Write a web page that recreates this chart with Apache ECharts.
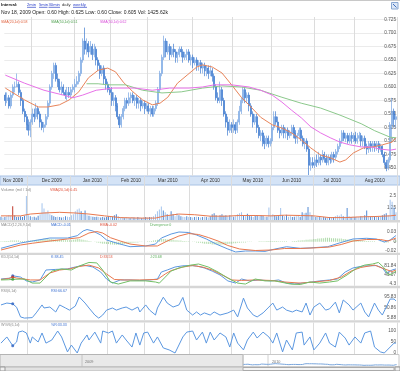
<!DOCTYPE html>
<html><head><meta charset="utf-8">
<script src="https://cdn.jsdelivr.net/npm/echarts@6/dist/echarts.min.js"></script>
<style>html,body{margin:0;padding:0;background:#fff}#c{width:400px;height:371px}</style>
</head><body><div id="c"></div>
<script>
// ---------- categories: trading days ----------
const tradingDays = [
  ['2009-11',[10,11,12,13,16,17,18,19,20,23,24,25,27,30]],
  ['2009-12',[1,2,3,4,7,8,9,10,11,14,15,16,17,18,21,22,23,24,28,29,30,31]],
  ['2010-01',[4,5,6,7,8,11,12,13,14,15,19,20,21,22,25,26,27,28,29]],
  ['2010-02',[1,2,3,4,5,8,9,10,11,12,16,17,18,19,22,23,24,25,26]],
  ['2010-03',[1,2,3,4,5,8,9,10,11,12,15,16,17,18,19,22,23,24,25,26,29,30,31]],
  ['2010-04',[1,5,6,7,8,9,12,13,14,15,16,19,20,21,22,23,26,27,28,29,30]],
  ['2010-05',[3,4,5,6,7,10,11,12,13,14,17,18,19,20,21,24,25,26,27,28]],
  ['2010-06',[1,2,3,4,7,8,9,10,11,14,15,16,17,18,21,22,23,24,25,28,29,30]],
  ['2010-07',[1,2,6,7,8,9,12,13,14,15,16,19,20,21,22,23,26,27,28,29,30]],
  ['2010-08',[2,3,4,5,6,9,10,11,12,13,16,17,18,19,20,23,24,25,26,27,30,31]]
];
const monthNames = ['Jan','Feb','Mar','Apr','May','Jun','Jul','Aug','Sep','Oct','Nov','Dec'];

// ---------- price candles [open, close, low, high] ----------
const candles = [
// Nov 2009
[.585,.575,.565,.59],[.575,.58,.57,.59],[.58,.565,.56,.585],[.565,.585,.56,.59],[.585,.60,.58,.605],
[.60,.60,.59,.61],[.60,.605,.60,.625],[.605,.59,.585,.61],[.59,.575,.565,.595],[.575,.555,.55,.58],
[.555,.545,.535,.56],[.545,.53,.52,.55],[.53,.52,.51,.54],[.52,.535,.507,.54],
// Dec
[.535,.55,.53,.56],[.55,.545,.535,.56],[.545,.56,.54,.57],[.56,.55,.54,.565],[.55,.535,.525,.555],
[.535,.525,.52,.54],[.525,.53,.516,.535],[.53,.545,.525,.55],[.545,.57,.54,.575],[.57,.60,.565,.605],
[.60,.625,.595,.63],[.625,.64,.615,.645],[.64,.615,.61,.645],[.615,.61,.60,.625],[.61,.595,.59,.615],
[.595,.60,.585,.61],[.60,.59,.585,.605],[.59,.585,.578,.595],[.585,.59,.575,.60],[.59,.585,.58,.60],
[.585,.595,.58,.60],[.595,.60,.59,.605],
// Jan 2010
[.60,.605,.59,.615],[.605,.61,.60,.62],[.61,.625,.605,.63],[.625,.65,.62,.655],[.65,.685,.645,.69],
[.685,.67,.66,.71],[.67,.68,.66,.69],[.68,.665,.655,.685],[.665,.675,.66,.685],[.675,.66,.65,.68],
[.66,.67,.655,.68],[.67,.65,.64,.675],[.65,.64,.63,.655],[.64,.625,.615,.645],[.625,.635,.62,.64],
[.635,.615,.605,.64],[.615,.605,.595,.62],[.605,.595,.59,.61],[.595,.59,.585,.60],
// Feb
[.59,.575,.565,.60],[.575,.58,.565,.59],[.58,.565,.555,.585],[.565,.545,.54,.57],[.545,.53,.524,.55],
[.53,.545,.525,.55],[.545,.56,.54,.565],[.56,.575,.555,.58],[.575,.57,.56,.58],[.57,.58,.565,.59],
[.58,.585,.57,.59],[.585,.575,.57,.59],[.575,.58,.565,.585],[.58,.57,.56,.585],[.57,.575,.56,.58],
[.575,.565,.555,.58],[.565,.57,.56,.575],[.57,.56,.55,.575],[.56,.565,.555,.57],
// Mar
[.565,.555,.55,.57],[.555,.56,.545,.565],[.56,.55,.545,.565],[.55,.56,.545,.565],[.56,.57,.555,.575],
[.57,.595,.565,.60],[.595,.625,.59,.63],[.625,.655,.62,.66],[.655,.685,.65,.695],[.685,.665,.655,.69],
[.665,.675,.66,.685],[.675,.66,.65,.68],[.66,.67,.655,.675],[.67,.665,.655,.68],[.665,.655,.645,.67],
[.655,.66,.645,.665],[.66,.67,.655,.675],[.67,.665,.655,.675],[.665,.655,.645,.67],[.655,.66,.65,.665],
[.66,.665,.65,.67],[.665,.65,.645,.67],[.65,.655,.64,.66],
// Apr
[.655,.645,.635,.66],[.645,.65,.64,.655],[.65,.64,.63,.655],[.64,.645,.63,.65],[.645,.635,.625,.65],
[.635,.64,.625,.645],[.64,.63,.62,.645],[.63,.635,.62,.64],[.635,.625,.615,.64],[.625,.63,.62,.64],
[.63,.62,.61,.635],[.62,.60,.595,.625],[.60,.58,.575,.605],[.58,.575,.57,.59],[.575,.595,.57,.61],
[.595,.575,.565,.60],[.575,.55,.545,.58],[.55,.535,.525,.555],[.535,.52,.51,.545],[.52,.53,.515,.54],
[.53,.525,.515,.535],
// May
[.525,.53,.515,.54],[.53,.52,.513,.535],[.52,.535,.515,.54],[.535,.555,.53,.565],[.555,.575,.55,.58],
[.575,.595,.57,.60],[.595,.58,.57,.60],[.58,.585,.57,.59],[.585,.565,.555,.59],[.565,.55,.545,.57],
[.55,.535,.525,.555],[.535,.545,.53,.55],[.545,.525,.515,.55],[.525,.51,.505,.53],[.51,.515,.50,.52],
[.515,.50,.49,.52],[.50,.495,.485,.51],[.495,.505,.49,.51],[.505,.495,.488,.51],[.495,.50,.49,.505],
// Jun
[.50,.525,.495,.53],[.525,.545,.52,.555],[.545,.535,.53,.555],[.535,.52,.515,.545],[.52,.515,.505,.525],
[.515,.525,.51,.53],[.525,.515,.505,.53],[.515,.52,.505,.525],[.52,.51,.502,.525],[.51,.515,.505,.52],
[.515,.525,.51,.53],[.525,.515,.505,.53],[.515,.505,.495,.52],[.505,.51,.495,.515],[.51,.52,.505,.525],
[.52,.505,.50,.525],[.505,.495,.49,.51],[.495,.50,.485,.505],[.50,.485,.48,.505],[.485,.455,.437,.49],
[.455,.46,.445,.47],[.46,.455,.45,.47],
// Jul
[.455,.465,.45,.47],[.465,.46,.452,.475],[.46,.47,.455,.48],[.47,.465,.455,.475],[.465,.475,.46,.483],
[.475,.468,.46,.48],[.468,.46,.455,.475],[.46,.47,.455,.475],[.47,.465,.458,.475],[.465,.475,.46,.48],
[.475,.47,.46,.48],[.47,.48,.465,.485],[.48,.49,.475,.495],[.49,.50,.485,.505],[.50,.515,.495,.52],
[.515,.505,.50,.52],[.505,.51,.498,.515],[.51,.50,.495,.515],[.50,.51,.495,.515],[.51,.505,.495,.517],
[.505,.51,.498,.515],
// Aug
[.51,.50,.495,.517],[.50,.505,.495,.515],[.505,.51,.50,.517],[.51,.50,.49,.515],[.50,.505,.49,.51],
[.505,.49,.485,.51],[.49,.485,.475,.495],[.485,.495,.478,.50],[.495,.49,.48,.50],[.49,.495,.48,.50],
[.495,.49,.48,.50],[.49,.495,.482,.50],[.495,.485,.478,.50],[.485,.49,.48,.495],[.49,.475,.47,.492],
[.475,.46,.455,.48],[.46,.45,.444,.465],[.45,.465,.446,.47],[.465,.53,.46,.535],[.53,.555,.505,.58],
[.555,.54,.525,.56],[.54,.545,.525,.55]
];

// ---------- volume (millions) ----------
const volume = [
 .35,.25,.3,.4,.5,.45,1.43,.5,.3,.35,.4,.3,.45,2.5,
 .5,.4,.3,.35,.25,.45,.6,1.75,1.2,.8,1.0,.6,.5,.4,.3,.35,.3,.25,.3,.4,.35,.3,
 .5,.6,.9,1.1,1.2,.9,.7,1.0,.5,.45,.4,.35,.3,.35,.3,.25,.3,.25,.3,
 .4,.3,.35,.5,.6,.4,.3,.25,.2,.3,.25,.2,.3,.25,.2,.3,.25,.2,.25,
 .3,.25,.3,.3,.4,.6,.9,1.1,1.4,1.0,.8,.6,.5,.9,.6,.4,.7,.5,.4,.35,.3,.4,.3,
 .3,.25,.3,.35,.3,.25,.3,.35,.3,.25,.4,.6,.7,.5,.4,.5,.6,.45,.5,.4,.5,
 .4,.35,.4,.6,.7,.8,.5,.4,.65,.5,.4,.3,.5,.45,.4,.5,.45,.3,.35,1.3,
 .5,.6,.5,.4,.45,1.25,.5,.4,.55,.35,.4,.3,.35,.4,.5,.35,.8,.7,.75,1.35,.8,.5,
 .4,.3,.35,.3,.25,.3,.25,.2,.3,.25,.3,.4,.5,.45,.6,.4,.35,1.25,.4,.3,.35,
 .3,.35,.3,.4,.35,.5,1.0,.4,.35,.3,.4,.35,.3,.4,.5,.6,.7,.5,2.1,1.9,1.3,.8
];

// ---------- MACD divergence (x 0.001) ----------
const divergence = [
 1,1,2,2,2,3,3,3,3,3,2,2,2,2,
 3,3,4,4,5,5,6,7,8,8,8,7,7,6,6,5,5,5,4,4,4,4,
 4,5,6,7,7,6,5,4,3,2,1,0,-1,-2,-3,-4,-5,-5,-6,
 -6,-7,-7,-8,-8,-8,-7,-7,-6,-5,-5,-4,-3,-3,-2,-2,-1,-1,0,
 0,1,1,2,3,4,5,6,7,7,7,6,6,5,5,4,4,3,3,2,2,1,1,
 0,-1,-1,-2,-3,-3,-4,-5,-5,-6,-6,-7,-7,-7,-8,-8,-7,-7,-6,-6,-5,
 -5,-4,-4,-3,-3,-2,-2,-2,-1,-1,-1,0,0,0,1,1,1,1,2,2,
 2,2,2,2,1,1,1,1,1,0,0,1,2,2,3,3,4,4,5,5,6,6,
 7,7,8,8,9,9,10,10,10,9,9,9,8,8,8,7,7,6,6,5,5,
 5,4,4,3,3,2,2,2,1,1,1,0,0,-1,-1,-2,-2,-2,-1,0,2,3
];

// ---------- line readings [trading-day index, value] ----------
const sma20Pts = [[0,.598],[10,.576],[17,.563],[22,.563],[28,.567],[33,.576],[38,.591],[43,.617],[48,.631],[53,.635],[57,.628],[61,.609],[66,.591],[71,.576],[76,.567],[80,.570],[84,.581],[89,.607],[94,.622],[99,.637],[102,.641],[107,.637],[112,.626],[117,.604],[122,.581],[127,.563],[132,.544],[138,.530],[143,.524],[148,.515],[153,.502],[158,.487],[163,.474],[168,.469],[173,.461],[176,.465],[180,.478],[185,.487],[190,.489],[195,.493],[200,.498],[202,.506]];
const sma50Pts = [[42,.606],[48,.606],[53,.604],[62,.604],[71,.594],[81,.589],[91,.591],[102,.598],[112,.602],[122,.600],[132,.594],[143,.581],[153,.570],[163,.561],[173,.548],[184,.532],[191,.519],[199,.507],[202,.506]];
const smaLongPts = [[0,.622],[10,.607],[20,.594],[30,.585],[35,.580],[40,.585],[47,.594],[56,.598],[67,.598],[76,.594],[85,.598],[95,.598],[102,.600],[108,.604],[117,.604],[126,.600],[132,.594],[138,.585],[143,.572],[148,.557],[153,.543],[158,.526],[163,.515],[168,.506],[173,.498],[178,.493],[184,.489],[189,.489],[194,.485],[199,.483],[202,.485]];
const vmaPts = [[0,.43],[10,.43],[15,.62],[22,.73],[30,.8],[38,.73],[45,.62],[53,.43],[61,.25],[71,.2],[79,.2],[84,.43],[91,.62],[99,.55],[107,.4],[115,.4],[122,.47],[130,.47],[138,.43],[145,.5],[153,.47],[160,.43],[168,.25],[176,.25],[184,.33],[191,.36],[199,.43],[202,.5]];
const macdPts = [[0,-.017],[10,-.0034],[16,.0018],[25,.0095],[34,.0095],[39,.0155],[42,.0276],[44,.0314],[47,.0276],[51,.0173],[54,.0044],[59,-.0034],[66,-.0129],[74,-.011],[79,-.006],[82,.0095],[87,.0198],[91,.025],[96,.0237],[100,.0173],[105,.007],[110,-.006],[116,-.0188],[120,-.0265],[125,-.024],[130,-.024],[135,-.025],[140,-.019],[146,-.013],[153,-.017],[158,-.016],[167,-.013],[173,-.0034],[180,.007],[187,.0088],[192,.007],[196,-.0008],[199,.0044],[202,.016]];
const emaPts = [[0,-.0214],[10,-.0085],[16,-.004],[25,.0018],[34,.007],[40,.0103],[45,.0224],[49,.0263],[52,.0224],[56,.0103],[61,.0018],[66,-.006],[74,-.011],[80,-.011],[85,.0018],[91,.0147],[96,.0211],[101,.0186],[106,.0108],[111,.0018],[116,-.0098],[122,-.0188],[130,-.0227],[138,-.0214],[145,-.0175],[153,-.0175],[160,-.016],[168,-.0137],[174,-.0072],[180,.0018],[187,.0057],[194,.0057],[198,.0018],[202,.0095]];
const kPts = [[0,25],[5,29],[6,38.45],[10,33],[13,17],[16,12.5],[20,21],[23,62.5],[28,65],[34,67],[38,75],[42,81.84],[44,80],[47,75],[51,54],[54,25],[57,8],[61,21],[66,21],[71,19],[76,21],[80,25],[82,54],[85,62.5],[89,75],[93,80],[97,81],[100,79],[104,71],[108,58],[112,42],[116,17],[120,8],[123,25],[127,17],[132,21],[138,17],[142,21],[146,8],[150,4.3],[154,8],[159,12.5],[163,17],[168,21],[172,25],[176,54],[180,71],[185,79],[189,80],[192,81],[195,71],[197,50],[200,62.5],[202,67]];
const dPts = [[0,23],[4,27],[6,33.53],[8,29],[15,21],[20,21],[25,50],[30,62.5],[35,67],[40,77],[45,83],[50,71],[54,46],[58,23],[63,21],[71,21],[80,23],[84,46],[87,60],[93,75],[98,81],[103,75],[108,62.5],[113,42],[118,21],[123,19],[130,21],[138,19],[145,12.5],[153,8],[160,12.5],[168,19],[174,33],[179,58],[184,73],[191,83],[196,67],[200,56],[202,62.5]];
const jPts = [[0,21],[4,22],[6,23.68],[12,25],[16,8],[20,8],[22,25],[26,58],[31,67],[36,62.5],[40,79],[45,94],[49,92],[52,62.5],[56,12.5],[60,4],[66,17],[74,17],[79,12.5],[81,8],[84,33],[87,58],[91,71],[97,83],[101,87.5],[106,75],[111,54],[116,29],[121,8],[125,4],[130,25],[135,17],[140,17],[148,4],[153,2],[158,12.5],[163,8],[168,12.5],[172,17],[177,42],[182,71],[186,83],[190,87.5],[193,94],[196,71],[198,42],[200,46],[202,58]];
const rsiPts = [[0,62],[3,70],[6,66.67],[8,52],[10,11],[12,6],[16,8],[18,28],[21,62],[22,49],[25,53],[28,32],[30,62],[33,49],[35,40],[38,57],[40,95.83],[43,70],[45,49],[48,19],[50,5.88],[52,19],[54,40],[57,49],[59,40],[62,49],[64,53],[67,40],[70,53],[71,32],[74,62],[76,40],[79,19],[80,49],[83,95],[85,70],[88,53],[91,62],[93,94],[95,40],[98,19],[100,32],[102,19],[104,28],[107,19],[109,32],[112,19],[116,28],[119,40],[121,11],[124,91],[126,49],[129,19],[131,11],[134,28],[137,53],[139,70],[141,40],[144,53],[146,40],[149,32],[151,40],[154,32],[156,70],[158,19],[160,53],[163,70],[166,40],[168,45],[171,74],[173,28],[175,83],[178,62],[180,40],[184,70],[186,32],[188,11],[191,70],[193,40],[195,19],[196,11],[199,87],[201,87],[202,79]];
const wrPts = [[0,45],[3,73],[6,33.33],[8,50],[9,95],[11,100],[13,91],[15,45],[16,73],[19,50],[21,91],[23,45],[26,59],[29,100],[31,73],[34,5],[36,36],[39,0],[41,45],[44,82],[45,59],[48,95],[51,45],[52,100],[55,91],[57,100],[59,45],[62,82],[64,59],[67,27],[69,91],[71,36],[73,91],[75,95],[78,45],[80,73],[83,23],[86,14],[89,0],[93,73],[95,95],[98,100],[100,59],[103,95],[105,45],[107,95],[109,59],[112,91],[115,73],[117,27],[119,91],[121,45],[124,14],[126,59],[129,95],[131,68],[134,95],[137,73],[139,45],[141,91],[144,5],[146,59],[149,14],[151,91],[154,95],[155,36],[158,73],[160,14],[163,45],[166,91],[168,45],[171,27],[173,95],[176,68],[178,36],[181,73],[184,45],[186,91],[189,100],[191,27],[194,5],[196,0],[199,27],[201,45],[202,45]];

// ---------- tick labels ----------
const priceTicks = [0.45,0.475,0.5,0.525,0.55,0.575,0.6,0.625,0.65,0.675,0.7,0.725];
const volTicks = [1.25, 2.5];
const macdTicks = [-0.024, 0, 0.025];
const kdjTicks = [4.3, 43.07, 81.84];
const rsiTicks = [5.88, 50.86, 95.83];
const wrTicks = [0, 50, 100];
const HOVER = 6;

// ---------- build ----------
const dates = [];
tradingDays.forEach(([ym, days]) => days.forEach(d => dates.push(ym + '-' + String(d).padStart(2,'0'))));
const monthStart = new Set();
const monthLabel = new Set();
dates.forEach((d, i) => {
  if (i > 0 && d.slice(0,7) !== dates[i-1].slice(0,7)) monthStart.add(i);
});
tradingDays.forEach(([ym]) => {
  const idx = dates.findIndex(d => d.slice(0,7) === ym && +d.slice(8) >= 15);
  if (idx >= 0) monthLabel.add(idx);
});
const FONT = 'Liberation Sans';
const pts = a => a.map(([i, v]) => [dates[i], v]);
const at = (a, i) => { const p = a.find(q => q[0] === i); return [dates[i], p[1]]; };

const grids = [
  {left:0, right:3, top:17, height:159},      // main
  {left:0, right:3, top:176, height:44},      // volume
  {left:0, right:3, top:222.5, height:30.3},  // macd
  {left:0, right:3, top:255, height:30.8},    // kdj
  {left:0, right:3, top:288.2, height:32},    // rsi
  {left:0, right:3, top:322.6, height:31.4},  // w%r
  {left:243, right:3, top:357, height:10}     // navigator
];
function xAx(g, labels) {
  return {
    type:'category', gridIndex:g, data:dates, boundaryGap:true,
    axisLine:{show:false}, axisTick:{show:false},
    axisLabel: labels ? {
      show:true, interval:(i)=>monthLabel.has(i), margin:2, fontSize:4.7, color:'#333', fontFamily:FONT,
      formatter:(v)=>monthNames[+v.slice(5,7)-1] + ' ' + v.slice(0,4)
    } : {show:false},
    splitLine: g === 6 ? {show:false} : {show:true, interval:(i)=>monthStart.has(i), lineStyle:{color:'#dcdcdc', width:1}}
  };
}
function yAx(g, min, max, ticks, fmt, grid) {
  return {
    type:'value', gridIndex:g, min, max, position:'right', scale:true,
    axisLine:{show:false},
    axisTick:{show:false, customValues: ticks || undefined},
    splitLine:{show:!!grid, lineStyle:{color:'#ebebeb', width:1}},
    axisLabel: ticks ? {show:true, inside:true, margin:1, customValues:ticks, formatter:fmt,
      fontSize:4.7, color:'#555', fontFamily:FONT} : {show:false}
  };
}
const BLUE = '#5b97e0', RED = '#e8784e', GREEN = '#72bf66';
const lineS = (name, xi, data, color, extra) => Object.assign({
  type:'line', name, xAxisIndex:xi, yAxisIndex:xi, data, showSymbol:false, symbol:'none',
  lineStyle:{color, width:1}, itemStyle:{color}, silent:true, z:3
}, extra || {});
const dot = (xi, p, color) => ({type:'scatter', xAxisIndex:xi, yAxisIndex:xi, data:[p], symbolSize:3, itemStyle:{color}, silent:true, z:5});

const T = (x, y, text, color, size, weight) => ({type:'text', x, y, z:100,
  style:{text, fill:color, font:(weight||'normal') + ' ' + size + 'px "' + FONT + '"', verticalAlign:'middle', align:'left'}});
const R = (x, y, w, h, fill, stroke, z) => ({type:'rect', z: z === undefined ? 100 : z, shape:{x, y, width:w, height:h},
  style:{fill, stroke: stroke || null, lineWidth: stroke ? 1 : 0}});
const L = (x1, y1, x2, y2, color, z) => ({type:'line', z: z === undefined ? 100 : z, shape:{x1, y1, x2, y2}, style:{stroke:color, lineWidth:1}});

const graphics = [
  L(0, 0.5, 400, 0.5, '#c8c8c8'),
  T(1, 5, 'Interval:', '#111', 4.2, 'bold'),
  T(27, 5, '2min', '#2a3fc8', 4.2), T(39, 5, '5min', '#2a3fc8', 4.2), T(48.5, 5, '30min', '#2a3fc8', 4.2),
  T(62, 5, 'daily', '#333', 4.2), T(73, 5, 'weekly', '#2a3fc8', 4.2),
  L(27, 7.3, 36, 7.3, '#6a78d8'), L(39, 7.3, 47.5, 7.3, '#6a78d8'), L(48.5, 7.3, 60, 7.3, '#6a78d8'), L(73, 7.3, 87, 7.3, '#6a78d8'),
  T(1, 13, 'Nov 18, 2009 Open: 0.60 High: 0.625 Low: 0.60 Close: 0.605 Vol: 1425.62k', '#222', 5),
  R(391.5, 2.5, 6.5, 6.5, '#dce7f6', '#8aa8d2'), L(393, 4, 396.5, 7.5, '#3f6fc0'),
  T(1, 22, 'SMA(20,1d):0.58', '#e0603c', 3.5), T(51, 22, 'SMA(50,1d):0.51', '#4a9e4a', 3.5), T(100, 22, 'SMA(50,1d):0.62', '#d84ad8', 3.5),
  R(0, 176, 400, 9, '#d4e3f6', '#a9c2e4', -1),
  T(1, 189.5, 'Volume (mil / 1d)', '#8a8a8a', 4), T(50, 189.5, 'VMA(20,1d):0.45', '#e0503a', 3.6),
  R(0, 220, 400, 2.5, '#d6d6d6'),
  T(1, 225, 'MACD(12,26,9,1d)', '#8a8a8a', 3.6), T(51, 225, 'MACD:-0.01', '#3a6fd0', 3.6),
  T(100, 225, 'EMA:-0.02', '#e0503a', 3.6), T(150, 225, 'Divergence:0', '#5cae5c', 3.6),
  R(0, 252.8, 400, 2.2, '#d6d6d6'),
  T(1, 257.3, 'KDJ(14,1d)', '#8a8a8a', 3.6), T(51, 257.3, 'K:38.45', '#3a6fd0', 3.6),
  T(100, 257.3, 'D:33.53', '#e0503a', 3.6), T(150, 257.3, 'J:23.68', '#5cae5c', 3.6),
  R(0, 285.8, 400, 2.4, '#d6d6d6'),
  T(1, 291, 'RSI(6,1d)', '#8a8a8a', 3.6), T(51, 291, 'RSI:66.67', '#3a6fd0', 3.6),
  R(0, 320.2, 400, 2.4, '#d6d6d6'),
  T(1, 324.5, 'W%R(6,1d)', '#8a8a8a', 3.6), T(51, 324.5, '%R:33.33', '#3a6fd0', 3.6),
  // navigator
  R(0, 354.5, 243, 12.5, '#e9e9e9', '#b4b4b4', 1),
  R(243, 354.5, 156, 12.5, 'rgba(255,255,255,0)', '#c8c8c8', 1),
  L(82, 355, 82, 367, '#c4c4c4', 2), L(268, 355, 268, 367, '#d0d0d0', 2),
  T(85, 362, '2009', '#777', 3.8), T(272, 362, '2010', '#777', 3.8),
  R(0, 367, 400, 4, '#e2e2e2', '#b8b8b8', 2),
  R(0, 367, 5, 4, '#f0f0f0', '#999', 3), R(395, 367, 5, 4, '#f0f0f0', '#999', 3),
  R(243, 367.5, 151, 3, '#f5f5f5', '#aaa', 3)
];

const UP = {color:'#b2cef2', borderColor:'#77a5e2'};
const DOWN = {color:'#3f7bd0', borderColor:'#3f7bd0'};

const option = {
  animation:false,
  backgroundColor:'#fff',
  grid: grids,
  xAxis: [xAx(0, true), xAx(1), xAx(2), xAx(3), xAx(4), xAx(5), xAx(6)],
  yAxis: [
    yAx(0, 0.4352, 0.7296, priceTicks, v => v.toFixed(3), true),
    yAx(1, 0, 4.583, volTicks, v => String(v)),
    yAx(2, -0.0286, 0.0495, macdTicks, v => v === 0 ? '0' : String(Math.round(v*100)/100)),
    yAx(3, -3.33, 125, kdjTicks, v => String(v)),
    yAx(4, -2.98, 133.2, rsiTicks, v => String(v)),
    yAx(5, -4.55, 138.2, wrTicks, v => String(v)),
    yAx(6, 0.233, 1.567, null, null)
  ],
  graphic: graphics,
  series: [
    {type:'candlestick', xAxisIndex:0, yAxisIndex:0, barWidth:1.5, silent:true, z:2,
      itemStyle:{color:UP.color, color0:DOWN.color, borderColor:UP.borderColor, borderColor0:DOWN.borderColor, borderWidth:0.7},
      data: candles.map(c => ({value:c, itemStyle: Object.assign({borderWidth:0.7}, c[1] >= c[0] ? UP : DOWN)}))},
    lineS('SMA20', 0, pts(sma20Pts), '#e8845a'),
    lineS('SMA50', 0, pts(sma50Pts), '#8cc98c'),
    lineS('SMAlong', 0, pts(smaLongPts), '#e872e8'),
    {type:'bar', xAxisIndex:1, yAxisIndex:1, barWidth:1, silent:true, z:2,
      data: volume.map((v, i) => ({value:v, itemStyle:{color: i === HOVER ? '#c0392b' : (candles[i][1] >= candles[i][0] ? '#a3c4ee' : '#5089d4')}}))},
    lineS('VMA', 1, pts(vmaPts), RED),
    {type:'bar', xAxisIndex:2, yAxisIndex:2, barWidth:1, silent:true, z:2,
      data: divergence.map(v => v / 1000), itemStyle:{color:'rgba(110,190,100,0.55)'}},
    lineS('MACD', 2, pts(macdPts), BLUE),
    lineS('EMA', 2, pts(emaPts), RED),
    lineS('K', 3, pts(kPts), BLUE),
    lineS('D', 3, pts(dPts), RED),
    lineS('J', 3, pts(jPts), GREEN),
    dot(3, at(kPts, HOVER), '#2a5fc0'), dot(3, at(dPts, HOVER), '#d03a2a'), dot(3, at(jPts, HOVER), '#3a9a3a'),
    lineS('RSI', 4, pts(rsiPts), BLUE),
    dot(4, at(rsiPts, HOVER), '#2a5fc0'),
    lineS('WR', 5, pts(wrPts), BLUE),
    dot(5, at(wrPts, HOVER), '#2a5fc0'),
    lineS('nav', 6, candles.map(c => c[1]), '#7aa6dc')
  ]
};
const chart = echarts.init(document.getElementById('c'), null, {renderer:'canvas'});
chart.setOption(option);
</script></body></html>
